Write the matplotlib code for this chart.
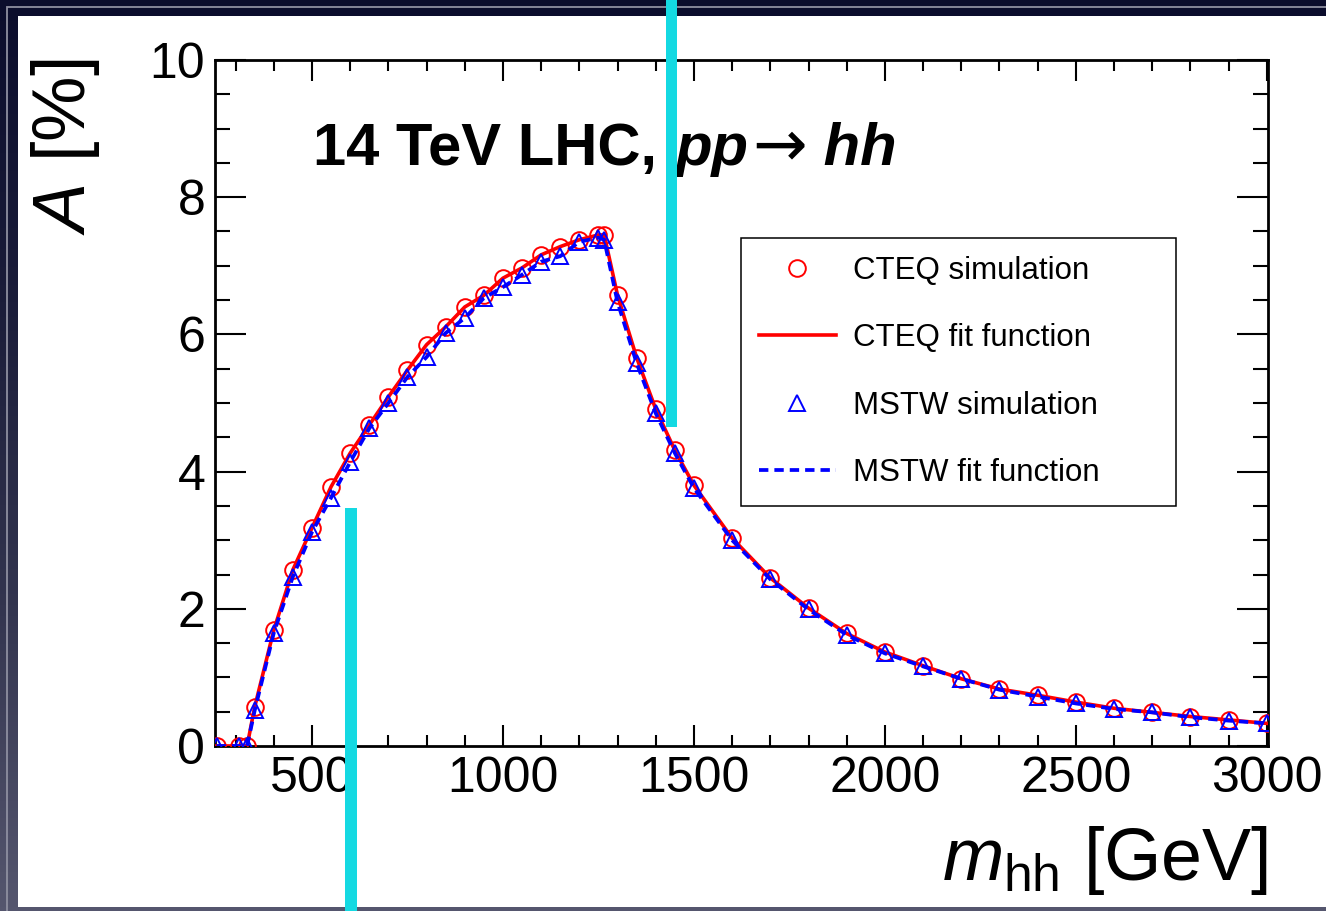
import numpy as np
import matplotlib
matplotlib.use("Agg")
import matplotlib.pyplot as plt
from matplotlib.patches import Rectangle
from matplotlib.colors import LinearSegmentedColormap

plt.rcParams['font.family'] = ['Liberation Sans', 'DejaVu Sans']
plt.rcParams['mathtext.fontset'] = 'custom'
plt.rcParams['mathtext.rm'] = 'Liberation Sans'
plt.rcParams['mathtext.it'] = 'Liberation Sans:italic'
plt.rcParams['mathtext.bf'] = 'Liberation Sans:bold'

# ---------------- data ----------------
mhh = [250, 310, 330, 350, 400, 450, 500, 550, 600, 650, 700, 750, 800, 850,
       900, 950, 1000, 1050, 1100, 1150, 1200, 1250, 1265, 1300, 1350, 1400,
       1450, 1500, 1600, 1700, 1800, 1900, 2000, 2100, 2200, 2300, 2400, 2500,
       2600, 2700, 2800, 2900, 3000]
cteq_sim = [0.0, 0.0, 0.0, 0.57, 1.69, 2.57, 3.18, 3.78, 4.27, 4.68, 5.09, 5.48,
            5.85, 6.11, 6.40, 6.57, 6.82, 6.97, 7.16, 7.28, 7.38, 7.45, 7.45,
            6.57, 5.66, 4.91, 4.31, 3.80, 3.03, 2.45, 2.01, 1.64, 1.37, 1.17,
            0.98, 0.83, 0.74, 0.64, 0.55, 0.49, 0.43, 0.38, 0.33]
mstw_sim = [0.0, 0.0, 0.0, 0.52, 1.65, 2.47, 3.12, 3.62, 4.14, 4.63, 5.00, 5.38,
            5.67, 6.02, 6.24, 6.53, 6.69, 6.87, 7.06, 7.14, 7.35, 7.41, 7.38,
            6.47, 5.58, 4.85, 4.27, 3.76, 3.00, 2.43, 1.99, 1.62, 1.35, 1.16,
            0.98, 0.82, 0.72, 0.62, 0.54, 0.49, 0.42, 0.37, 0.33]
cteq_fit = cteq_sim
mstw_fit = mstw_sim

xticks = [500, 1000, 1500, 2000, 2500, 3000]
yticks = [0, 2, 4, 6, 8, 10]
labels = ["CTEQ simulation", "CTEQ fit function", "MSTW simulation", "MSTW fit function"]

W, H = 1326, 911
fig = plt.figure(figsize=(W / 100, H / 100), dpi=100)

# background slide frame
bg = fig.add_axes([0, 0, 1, 1], zorder=-10)
cmap = LinearSegmentedColormap.from_list("bg", ["#0b0d2c", "#1b1d3a", "#33354f", "#55566e"])
bg.imshow(np.linspace(0, 1, 256).reshape(-1, 1), aspect='auto', cmap=cmap,
          extent=[0, 1, 0, 1])
bg.set_axis_off()
fig.add_artist(Rectangle((7 / W, -0.1), 1.2, 1 - 7 / H + 0.1, transform=fig.transFigure,
                         facecolor='none', edgecolor='#8e8fa0', lw=1.3, zorder=-6))
fig.add_artist(Rectangle((18 / W, 1 - 907 / H), 1, (907 - 16) / H,
                         transform=fig.transFigure, facecolor='white',
                         edgecolor='none', zorder=-5))

ax = fig.add_axes([215 / W, 1 - 746 / H, 1053 / W, 686 / H])
ax.set_xlim(246, 3003)
ax.set_ylim(0, 10)

ax.plot(mhh, cteq_fit, color='#ff0000', lw=2.6, zorder=3, label=labels[1])
ax.plot(mhh, cteq_sim, ls='none', marker='o', ms=12, mfc='none', mec='#ff0000',
        mew=1.4, zorder=4, label=labels[0])
ax.plot(mhh, mstw_sim, ls='none', marker='^', ms=12, mfc='none', mec='#0000ff',
        mew=1.4, zorder=5, label=labels[2])
ax.plot(mhh, mstw_fit, color='#0000ff', lw=2.7, ls=(0, (2.5, 1.6)), zorder=6,
        label=labels[3])

ax.set_xticks(xticks)
ax.set_yticks(yticks)
ax.set_xticks(np.arange(300, 3001, 100), minor=True)
ax.set_yticks(np.arange(0, 10.01, 0.5), minor=True)
ax.tick_params(which='both', direction='in', top=True, right=True, width=1.5,
               labelsize=36, color='black')
ax.tick_params(axis='x', which='major', length=15, pad=7)
ax.tick_params(axis='x', which='minor', length=8)
ax.tick_params(axis='y', which='major', length=22, pad=7)
ax.tick_params(axis='y', which='minor', length=11)
for s in ax.spines.values():
    s.set_linewidth(2.0)

h, l = ax.get_legend_handles_labels()
hd = dict(zip(l, h))
leg = ax.legend([hd[t] for t in labels], labels, loc='upper left',
                bbox_to_anchor=(0.4995, 0.3513, 0.4131, 0.3892), mode='expand',
                borderaxespad=0, fontsize=22.5, frameon=True, fancybox=False,
                framealpha=1, edgecolor='black', handlelength=2.45,
                handletextpad=0.55, labelspacing=1.19, borderpad=0.58, numpoints=1)
leg.get_frame().set_linewidth(1.1)

# title built from pieces on one baseline
renderer = fig.canvas.get_renderer()
ybase = 1 - 165 / H
pieces = [("14 TeV LHC, ", dict(fontweight='bold', fontsize=43)),
          ("pp", dict(fontweight='bold', fontstyle='italic', fontsize=43)),
          ("\u2192", dict(family='DejaVu Sans', fontsize=47)),
          (" hh", dict(fontweight='bold', fontstyle='italic', fontsize=43))]
xpos = 313 / W
gaps = [2, 4, 0, 0]
for (txt, kw), g in zip(pieces, gaps):
    t = fig.text(xpos, ybase, txt, ha='left', va='baseline', **kw)
    bb = t.get_window_extent(renderer)
    xpos = (bb.x1 + g) / W

fig.text(65 / W, 1 - 147 / H, r"$A$ [%]", fontsize=53, rotation=90,
         ha='center', va='center')
fig.text(1268 / W, 1 - 880 / H, r"$m_{\mathrm{hh}}$ [GeV]", fontsize=53,
         ha='right', va='baseline')

# cyan annotation bars
fig.add_artist(Rectangle((345 / W, 0), 12 / W, (911 - 508) / H, transform=fig.transFigure,
                         facecolor='#14d9e2', edgecolor='none', zorder=10))
fig.add_artist(Rectangle((666 / W, 1 - 427 / H), 11 / W, 427 / H, transform=fig.transFigure,
                         facecolor='#14d9e2', edgecolor='none', zorder=10))

fig.savefig("out.png", dpi=100)
